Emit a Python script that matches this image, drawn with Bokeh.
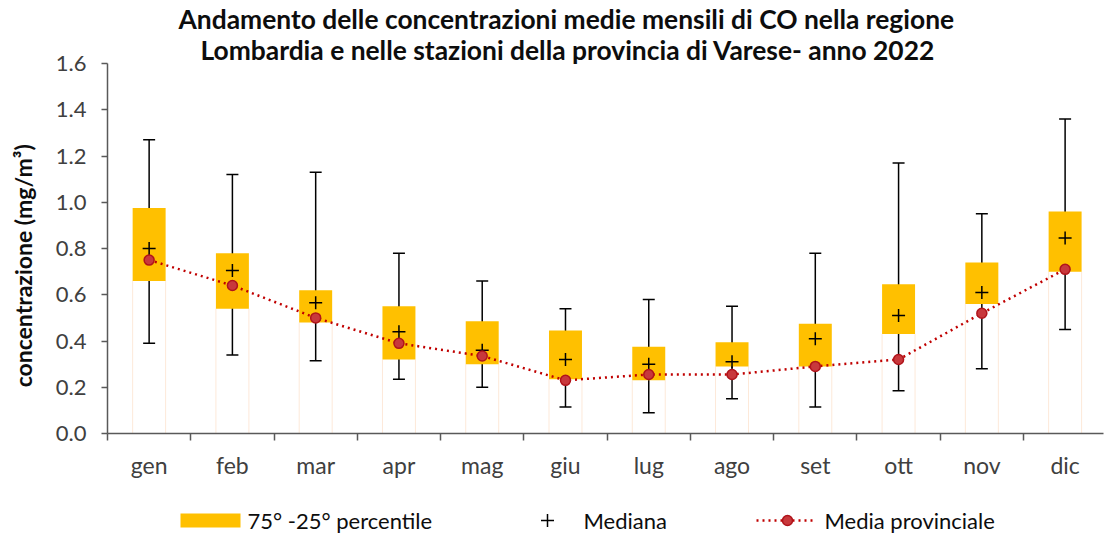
import math
from bokeh.plotting import figure
from bokeh.layouts import column, row
from bokeh.models import FixedTicker, Range1d, PrintfTickFormatter, Title
from bokeh.core.properties import value
from bokeh.embed import file_html
from bokeh.resources import INLINE

months = ["gen", "feb", "mar", "apr", "mag", "giu", "lug", "ago", "set", "ott", "nov", "dic"]
whisker_max = [1.27, 1.12, 1.13, 0.78, 0.66, 0.54, 0.58, 0.55, 0.78, 1.17, 0.95, 1.36]
p75 = [0.975, 0.78, 0.62, 0.55, 0.485, 0.445, 0.375, 0.395, 0.475, 0.645, 0.74, 0.96]
p25 = [0.66, 0.54, 0.48, 0.32, 0.30, 0.235, 0.23, 0.29, 0.29, 0.43, 0.56, 0.70]
whisker_min = [0.39, 0.34, 0.315, 0.235, 0.20, 0.115, 0.09, 0.15, 0.115, 0.185, 0.28, 0.45]
median = [0.80, 0.705, 0.565, 0.44, 0.36, 0.32, 0.30, 0.31, 0.41, 0.51, 0.61, 0.845]
media_prov = [0.75, 0.64, 0.50, 0.39, 0.335, 0.23, 0.255, 0.255, 0.29, 0.32, 0.52, 0.71]
y_ticks = [0.0, 0.2, 0.4, 0.6, 0.8, 1.0, 1.2, 1.4, 1.6]

title_1 = "Andamento delle concentrazioni medie mensili di CO nella regione"
title_2 = "Lombardia e nelle stazioni della provincia di Varese- anno 2022"
y_title = "concentrazione (mg/m³)"
legend_labels = ["75° -25° percentile", "Mediana", "Media provinciale"]

FONT = "Lato"
AXIS_COL = "#595959"
TXT_COL = "#404040"
DARK = "#0D0D0D"
BOX_COL = "#FFC000"
RED = "#C00000"

xs = list(range(len(months)))
box_w = 0.396
cap_h = 0.072

MAIN_H = 481

p = figure(width=1065, height=MAIN_H, output_backend="svg", toolbar_location=None, tools="",
           x_range=Range1d(-0.5, 11.461), y_range=Range1d(0, 1.6),
           min_border_left=67, min_border_right=2, min_border_top=63, min_border_bottom=47)
p.outline_line_color = None
p.xgrid.visible = False
p.ygrid.visible = False

# faint bar edges below boxes
p.segment(x0=[x - box_w / 2 for x in xs], y0=[0] * 12, x1=[x - box_w / 2 for x in xs], y1=p25,
          line_color="#FDE9D9", line_width=1)
p.segment(x0=[x + box_w / 2 for x in xs], y0=[0] * 12, x1=[x + box_w / 2 for x in xs], y1=p25,
          line_color="#FDE9D9", line_width=1)
# whiskers
p.segment(x0=xs, y0=whisker_min, x1=xs, y1=whisker_max, line_color="black", line_width=1.5)
p.segment(x0=[x - cap_h for x in xs], y0=whisker_max, x1=[x + cap_h for x in xs], y1=whisker_max,
          line_color="black", line_width=1.5)
p.segment(x0=[x - cap_h for x in xs], y0=whisker_min, x1=[x + cap_h for x in xs], y1=whisker_min,
          line_color="black", line_width=1.5)
# boxes
p.vbar(x=xs, width=box_w, bottom=p25, top=p75, fill_color=BOX_COL, line_color=None)
# median
p.scatter(x=xs, y=median, marker="cross", size=13, line_color="black", line_width=1.5)
# mean
p.line(x=xs, y=media_prov, line_color=RED, line_width=2.5, line_dash="2 4")
p.scatter(x=xs, y=media_prov, marker="circle", size=10, fill_color="#C8383C", line_color="#B0141B",
          line_width=1.5)

# axes
xa = p.xaxis[0]
xa.ticker = FixedTicker(ticks=xs, minor_ticks=[x - 0.5 for x in xs])
xa.major_label_overrides = {i: m for i, m in enumerate(months)}
xa.major_tick_line_color = None
xa.major_tick_out = 0
xa.major_tick_in = 0
xa.minor_tick_out = 7
xa.minor_tick_in = 0
xa.minor_tick_line_color = AXIS_COL
xa.minor_tick_line_width = 1.5
xa.axis_line_color = AXIS_COL
xa.axis_line_width = 1.5
xa.major_label_text_font = FONT
xa.major_label_text_font_size = "23px"
xa.major_label_text_color = TXT_COL
xa.major_label_standoff = 10

ya = p.yaxis[0]
ya.ticker = FixedTicker(ticks=y_ticks)
ya.formatter = PrintfTickFormatter(format="%.1f")
ya.major_tick_out = 6
ya.major_tick_in = 0
ya.minor_tick_line_color = None
ya.major_tick_line_color = AXIS_COL
ya.major_tick_line_width = 1.5
ya.axis_line_color = AXIS_COL
ya.axis_line_width = 1.5
ya.major_label_text_font = FONT
ya.major_label_text_font_size = "22px"
ya.major_label_text_color = TXT_COL
ya.major_label_standoff = 15

# titles (first added = closest to the frame)
p.add_layout(Title(text=title_2, align="left", offset=93, standoff=-4, text_font=FONT,
                   text_font_style="bold", text_font_size="26.4px", text_color=DARK), "above")
p.add_layout(Title(text=title_1, align="left", offset=71, standoff=-3, text_font=FONT,
                   text_font_style="bold", text_font_size="26.4px", text_color=DARK), "above")

# y-axis title in a narrow side panel (pixel coordinates)
yl = figure(width=40, height=MAIN_H, output_backend="svg", toolbar_location=None, tools="",
            x_range=Range1d(0, 40), y_range=Range1d(MAIN_H, 0), min_border=0)
yl.axis.visible = False
yl.xgrid.visible = False
yl.ygrid.visible = False
yl.outline_line_color = None
yl.text(x=[22], y=[263], text=[y_title], angle=math.pi / 2, text_align="center", text_baseline="middle",
        text_font=value(FONT), text_font_style="bold", text_font_size="23px", text_color=DARK)

# legend panel (pixel coordinates)
LG_H = 533 - MAIN_H
lg = figure(width=1105, height=LG_H, output_backend="svg", toolbar_location=None, tools="",
            x_range=Range1d(0, 1105), y_range=Range1d(LG_H, 0), min_border=0)
lg.axis.visible = False
lg.xgrid.visible = False
lg.ygrid.visible = False
lg.outline_line_color = None
cy = 39
lg.rect(x=[210], y=[cy], width=60, height=14, fill_color=BOX_COL, line_color=None)
lg.scatter(x=[547], y=[cy], marker="cross", size=13, line_color="black", line_width=1.5)
lg.line(x=[756, 815], y=[cy, cy], line_color=RED, line_width=2.5, line_dash="2 4")
lg.scatter(x=[787], y=[cy], marker="circle", size=10, fill_color="#C8383C", line_color="#B0141B",
           line_width=1.5)
lg.text(x=[247, 583, 824], y=[cy] * 3, text=legend_labels, text_font=value(FONT), text_font_size="22px",
        text_baseline="middle", text_color=DARK)

layout = column(row(yl, p, spacing=0), lg, spacing=0)
open("out.html", "w").write(file_html(layout, INLINE))
